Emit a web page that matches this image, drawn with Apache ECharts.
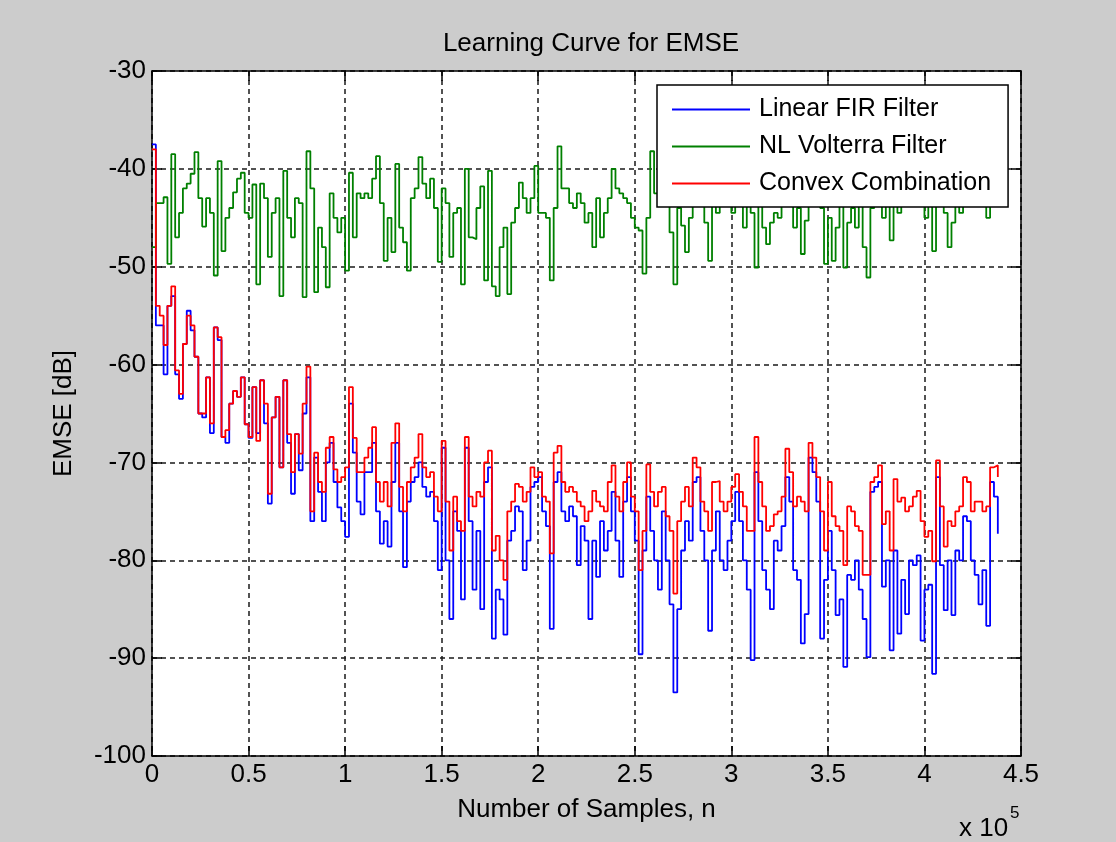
<!DOCTYPE html>
<html>
<head>
<meta charset="utf-8">
<title>Learning Curve for EMSE</title>
<script src="https://cdn.jsdelivr.net/npm/echarts@6/dist/echarts.min.js"></script>
<style>
  html, body { margin: 0; padding: 0; background: #cccccc; }
  #chart { width: 1116px; height: 842px; }
</style>
</head>
<body>
<div id="chart"></div>
<script>
// Samples between consecutive stored EMSE estimates
const SAMPLE_STEP = 2000;

const xTickLabels = ['0', '0.5', '1', '1.5', '2', '2.5', '3', '3.5', '4', '4.5'];
const yTickLabels = ['-100', '-90', '-80', '-70', '-60', '-50', '-40', '-30'];
const seriesNames = ['Linear FIR Filter', 'NL Volterra Filter', 'Convex Combination'];

// EMSE [dB] of the linear FIR filter
const firEmse = [
  -37.5, -56, -56, -61, -54, -53, -61, -63.5, -57.9, -54.5,
  -56.5, -59.2, -65, -65.4, -61.3, -67, -56.2, -57.5, -67.4, -68,
  -64, -62.7, -63.3, -61.3, -66.1, -67.5, -62.3, -67, -61.6, -66,
  -74.2, -65.4, -63.3, -70.5, -61.6, -68, -73.2, -67.1, -70.8, -65,
  -61.3, -76, -69.5, -73, -76, -70, -68, -72, -74.6, -76,
  -77.6, -64, -69, -74, -75.3, -71, -71, -68, -75, -78.3,
  -76, -78.6, -72, -68, -75, -80.7, -74, -72, -71.5, -70,
  -72.5, -73.5, -73, -76, -81, -68.5, -80, -86, -75, -77,
  -84, -68.5, -76, -83, -77, -85, -72, -70.5, -88, -83,
  -84, -87.6, -78, -77, -74.5, -75, -81, -78, -72.5, -72,
  -71.5, -75, -76.5, -87, -72, -71, -75, -76, -74.5, -75.5,
  -80.5, -76.5, -78, -86, -78, -81.7, -76, -79, -77, -73,
  -78, -81.7, -74, -71.5, -75, -78, -89.6, -79, -73.5, -77,
  -80, -83, -75, -80, -84.5, -93.5, -85, -79, -76, -78,
  -72, -71.5, -77, -80, -87.2, -79, -75, -80, -81, -78,
  -76, -73, -76, -80, -83, -90.2, -71, -76, -81, -83,
  -85, -78, -79, -76.5, -71.5, -74, -81, -82, -88.5, -85.5,
  -69.5, -71, -74, -88, -82, -77, -81, -85.6, -84, -90.9,
  -81.5, -82, -80, -83, -86, -89.9, -73, -72.5, -72, -82.7,
  -80, -89.2, -79, -87.5, -82, -85.5, -80, -80.5, -79.5, -88.2,
  -83, -82.5, -91.6, -71.5, -80.5, -85.1, -80, -85.6, -79, -80,
  -75.5, -76, -80, -81.5, -84.5, -81, -86.7, -72, -73.5, -77.3
];

// EMSE [dB] of the nonlinear Volterra filter
const volterraEmse = [
  -48, -43.5, -43.5, -42.9, -49.7, -38.5, -47, -44.5, -42, -41.5,
  -40.5, -38.3, -43, -45.9, -43, -44.5, -50.9, -39.2, -48.4, -45,
  -44, -42.4, -41, -40.4, -44.5, -45, -41.6, -51.8, -41.5, -43,
  -49, -44.5, -43, -53, -40.2, -45, -47, -43, -43.5, -53.1,
  -38.2, -42, -52.6, -46, -48, -52.1, -42.5, -45, -46.5, -45,
  -50.4, -40.4, -47, -42.5, -43, -42.5, -43, -41, -38.7, -43.5,
  -49.4, -45, -48.5, -39.5, -46, -47.5, -50.4, -43, -42, -38.8,
  -41.5, -43, -41, -44, -49.5, -42, -43.5, -49, -44.5, -44,
  -51.8, -40, -47, -47.2, -44, -41.8, -51.4, -40.2, -52, -53,
  -48, -46, -52.8, -45.5, -44, -41.4, -43, -44.5, -43, -39.7,
  -44.5, -44.5, -45, -51.4, -44, -37.7, -42, -42, -43.5, -44,
  -42.5, -43.5, -45.5, -44.5, -48, -43, -47, -44.5, -43, -40,
  -42, -42.5, -43, -43.5, -45, -46, -46.3, -50.7, -45, -38.2,
  -42.5, -41, -40, -42, -46.5, -51.8, -44, -45.8, -48.5, -45,
  -40, -41, -42, -45.5, -49.4, -41, -44.5, -40, -39, -41,
  -44.5, -40, -42, -46, -41, -44.5, -50.1, -42, -46, -47.7,
  -45.5, -44.5, -45, -41, -40, -42, -46, -44, -48.7, -45.3,
  -42, -41, -40, -44, -49.7, -45, -49.4, -46, -42, -50.1,
  -45.5, -44, -46, -43, -48, -51.1, -44, -41, -43, -45,
  -42, -47.3, -41, -44.5, -41, -40, -42, -39, -41, -42,
  -45, -42, -48.4, -42, -41, -44.5, -48, -45.5, -42, -44.5,
  -41, -40, -42, -40, -41, -43, -45, -42, -40, -41
];

// EMSE [dB] of the convex combination of both filters
const convexEmse = [
  -38, -54, -55, -58, -54, -52, -60.6, -63, -57.9, -55,
  -56, -59.2, -65, -65, -61.3, -66, -56.2, -57.2, -67.4, -66.7,
  -64, -62.7, -63.3, -61.3, -66.1, -67.4, -62.3, -67.8, -61.6, -64,
  -73.2, -65.4, -63.3, -70.5, -61.6, -67.1, -71, -67.1, -69.1, -64,
  -60.2, -75, -69, -72, -73, -68.5, -67.4, -70.7, -72, -71.5,
  -70.5, -62.3, -67.5, -71, -71, -69.5, -68.5, -66.4, -72, -74,
  -72, -74.5, -68, -66, -72.5, -75, -72, -70.5, -69.5, -67.1,
  -70.5, -71.5, -71, -73.5, -75, -67.8, -74, -79, -73.5, -76,
  -77, -67.4, -73.5, -74.5, -73, -73.5, -70, -68.8, -79, -77.5,
  -80, -82, -75, -74, -72.2, -72.5, -74, -73, -70.5, -71.5,
  -71, -73.5, -74, -79.3, -69, -68.3, -72, -73, -72.5, -73,
  -74, -74.5, -76, -75, -72.9, -74, -74.5, -75, -72, -70.3,
  -73.5, -75, -72, -70, -73.5, -75, -81, -77, -70.2, -73,
  -74.5, -73, -72.5, -75.5, -77, -83.4, -76, -74, -72.5, -74.5,
  -69.5, -70.5, -74, -75, -77, -72, -71.9, -74, -75, -74,
  -72.5, -71.2, -73, -74.5, -77, -77, -67.4, -72, -74.5, -77,
  -76.5, -75.3, -75, -73.5, -68.6, -71, -74.5, -73.5, -74, -75,
  -68, -69.5, -71.5, -75, -79, -72, -75.5, -76.5, -77, -80.5,
  -74.5, -75, -76.5, -77, -81.5, -81.5, -72, -71.5, -70.3, -76.3,
  -75, -79, -71.7, -74, -73.6, -75, -74.5, -73.5, -72.9, -76,
  -77.6, -77, -80.1, -69.8, -74.5, -78.6, -76, -76.5, -75, -74.5,
  -71.5, -72, -75, -74, -74, -75, -74.5, -70.5, -70.3, -71.5
];

const FONT = "'Liberation Sans', Arial, Helvetica, sans-serif";
const COLORS = ['#0000ff', '#008000', '#ff0000'];

function toPairs(values) {
  return values.map((v, i) => [i * SAMPLE_STEP, v]);
}

function xLabel(value) {
  const idx = Math.round(value / 50000);
  return xTickLabels[idx] !== undefined ? xTickLabels[idx] : '';
}

function yLabel(value) {
  const idx = Math.round((value + 100) / 10);
  return yTickLabels[idx] !== undefined ? yTickLabels[idx] : '';
}

const axisLine = { show: true, onZero: false, lineStyle: { color: '#000', width: 1.5 } };
const axisTick = { show: true, inside: true, length: 10, lineStyle: { color: '#000', width: 1.5 } };
const gridLine = { show: true, lineStyle: { color: '#1a1a1a', width: 1.5, type: [5, 4] } };
const tickFont = { color: '#000', fontSize: 26, fontFamily: FONT };

const chart = echarts.init(document.getElementById('chart'), null, { renderer: 'canvas' });

chart.setOption({
  backgroundColor: '#cccccc',
  animation: false,
  title: {
    text: 'Learning Curve for EMSE',
    left: 586,
    top: 26,
    textAlign: 'center',
    textStyle: { color: '#000', fontSize: 26, fontWeight: 'normal', fontFamily: FONT }
  },
  grid: {
    left: 152, right: 95, top: 71, bottom: 86,
    show: true, backgroundColor: '#ffffff', borderWidth: 0
  },
  legend: {
    data: seriesNames.map((name, i) => ({ name, icon: 'rect', itemStyle: { color: COLORS[i] } })),
    orient: 'vertical',
    left: 657,
    top: 85,
    padding: [12, 17, 11, 15],
    itemGap: 12,
    itemWidth: 78,
    itemHeight: 2,
    backgroundColor: '#ffffff',
    borderColor: '#000',
    borderWidth: 1.5,
    textStyle: { color: '#000', fontSize: 25, fontFamily: FONT, padding: [0, 0, 0, 4] }
  },
  xAxis: [
    {
      type: 'value', position: 'bottom', min: 0, max: 450000, interval: 50000,
      axisLine, axisTick, splitLine: gridLine,
      axisLabel: Object.assign({ margin: 6, formatter: xLabel }, tickFont),
      name: 'Number of Samples, n', nameLocation: 'middle', nameGap: 41,
      nameTextStyle: { color: '#000', fontSize: 26, fontFamily: FONT }
    },
    {
      type: 'value', position: 'top', min: 0, max: 450000, interval: 50000,
      axisLine, axisTick, splitLine: { show: false }, axisLabel: { show: false }
    }
  ],
  yAxis: [
    {
      type: 'value', position: 'left', min: -100, max: -30, interval: 10,
      axisLine, axisTick, splitLine: gridLine,
      axisLabel: Object.assign({ margin: 6, formatter: yLabel }, tickFont),
      name: 'EMSE [dB]', nameLocation: 'middle', nameGap: 75, nameRotate: 90,
      nameTextStyle: { color: '#000', fontSize: 26, fontFamily: FONT }
    },
    {
      type: 'value', position: 'right', min: -100, max: -30, interval: 10,
      axisLine, axisTick, splitLine: { show: false }, axisLabel: { show: false }
    }
  ],
  graphic: [
    {
      type: 'text', left: 959, top: 816,
      style: { text: 'x 10', fill: '#000', font: '26px ' + FONT }
    },
    {
      type: 'text', left: 1010, top: 805,
      style: { text: '5', fill: '#000', font: '17px ' + FONT }
    }
  ],
  series: [firEmse, volterraEmse, convexEmse].map((values, i) => ({
    name: seriesNames[i],
    type: 'line',
    step: 'end',
    symbol: 'none',
    data: toPairs(values),
    lineStyle: { color: COLORS[i], width: 1.8 },
    itemStyle: { color: COLORS[i] }
  }))
});
</script>
</body>
</html>
